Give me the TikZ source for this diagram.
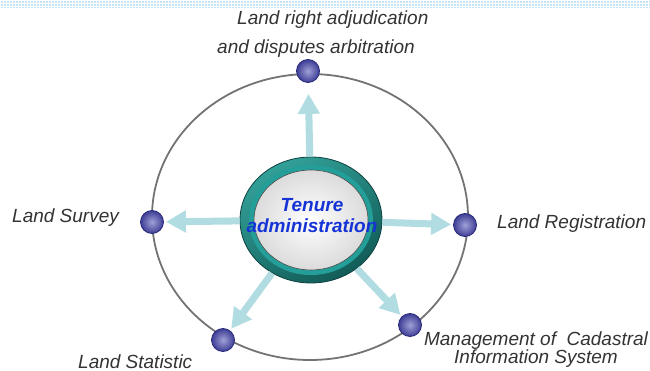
\documentclass[tikz,border=0pt]{standalone}
\usepackage{fontspec}
\setmainfont{Liberation Sans}
\usetikzlibrary{shapes.geometric,arrows.meta,positioning}
\definecolor{bandblue}{RGB}{196,228,246}
\definecolor{spokecol}{RGB}{176,220,226}
\definecolor{ballin}{RGB}{160,160,215}
\definecolor{ballout}{RGB}{62,62,150}
\definecolor{balledge}{RGB}{40,40,120}
\definecolor{hubhi}{RGB}{50,160,152}
\definecolor{hubdark}{RGB}{18,92,88}
\definecolor{hubring}{RGB}{36,158,152}
\definecolor{hubblue}{RGB}{22,52,214}

\begin{document}
\begin{tikzpicture}[x=1pt, y=-1pt,
					ball/.style={circle, minimum size=23pt, inner sep=0pt, shading=radial, inner color=ballin, outer color=ballout, draw=balledge, line width=0.8pt},
					lbl/.style={inner sep=0pt, text=black!80, font=\fontsize{19}{18}\selectfont\itshape},
					spoke/.style={draw=spokecol, line width=7pt, -{Triangle[width=21pt,length=20pt]}, shorten >=2pt},
					hub/.style={ellipse, minimum width=142pt, minimum height=126pt, shading=axis, top color=hubhi, bottom color=hubdark, shading angle=30, draw=hubdark!70!black, line width=0.8pt}]
					
					\useasboundingbox (0,0) rectangle (650,371);
					\fill[bandblue] (0,0) rectangle (650,8);
					\draw[white, line width=0.7pt, step=3pt] (0,0) grid (650,8);
					\draw[black!55, line width=1.8pt] (310,217) ellipse [x radius=158, y radius=143];
					
					\node[hub] (hub) at (311,220) {};
					\fill[hubring] (hub.center) ellipse [x radius=62, y radius=55];
					\shade[inner color=white, outer color=black!14, draw=black!70, line width=0.6pt] (hub.center) ellipse [x radius=57, y radius=50];
					\node[align=center, inner sep=0pt, text=hubblue, font=\fontsize{19}{21}\selectfont\bfseries\itshape] (hubtxt) at (312,216) {Tenure\\administration};
					
					\node[ball] (adj) at (308,71) {};
					\node[ball] (reg) at (465,225) {};
					\node[ball] (mcis) at (410,325) {};
					\node[ball] (stat) at (223,340) {};
					\node[ball] (surv) at (152,222) {};
					
					\draw[spoke, shorten >=11pt] (hub) -- (adj);
					\draw[spoke] (hub) -- (reg);
					\draw[spoke] (hub) -- (mcis);
					\draw[spoke] (hub) -- (stat);
					\draw[spoke] (hub) -- (surv);
					
					\node[lbl, anchor=base west] (adjlbl) at (237,25) {Land right adjudication};
					\node[lbl, anchor=base west] (adjlbl2) at (217,54) {and disputes arbitration};
					\node[lbl, anchor=base west] (reglbl) at (497,229) {Land Registration};
					\node[lbl, align=center] (mcislbl) at (536,350) {Management of\ \ Cadastral\\Information System};
					\node[lbl, anchor=base west] (statlbl) at (78,368) {Land Statistic};
					\node[lbl, anchor=base west] (survlbl) at (12,223) {Land Survey};
				\end{tikzpicture}
\end{document}
